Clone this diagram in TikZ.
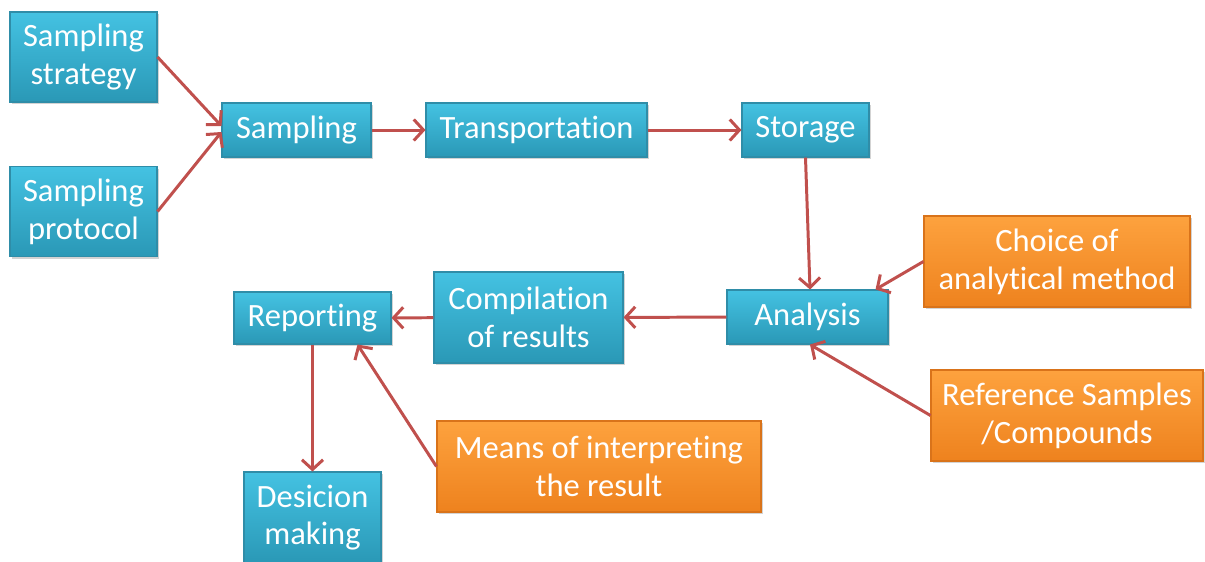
\documentclass[tikz,border=0pt]{standalone}
\usepackage{fontspec}
\setmainfont{Carlito}[Ligatures=NoCommon]
\usepackage{tikz}
\usetikzlibrary{arrows.meta,shadows}
\definecolor{boxtop}{HTML}{44C2E2}
\definecolor{boxbot}{HTML}{2A98B6}
\definecolor{boxline}{HTML}{2F8DA8}
\definecolor{ortop}{HTML}{FDA23E}
\definecolor{orbot}{HTML}{EE821E}
\definecolor{orline}{HTML}{D9731A}
\definecolor{arrowred}{HTML}{C0504D}
\begin{document}
\begin{tikzpicture}[->,>={Straight Barb[length=5.5pt,width=12pt,line width=1.7pt]},
    every node/.style={text=white,align=center,font=\fontsize{18.5}{21.5}\selectfont,inner sep=2pt},
    bluebox/.style={rectangle,top color=boxtop,bottom color=boxbot,draw=boxline,line width=0.6pt,
      drop shadow={shadow xshift=1.2pt,shadow yshift=-1.2pt,opacity=0.35}},
    orangebox/.style={rectangle,top color=ortop,bottom color=orbot,draw=orline,line width=0.6pt,
      drop shadow={shadow xshift=1.2pt,shadow yshift=-1.2pt,opacity=0.35}},
    flow/.style={draw=arrowred,line width=1.7pt}]
  \useasboundingbox (0,0) rectangle (24.1,-11.22);
  % left column
  \node[bluebox,minimum width=2.94cm,minimum height=1.8cm] (strat) at (1.67,-1.14) {Sampling\\strategy};
  \node[bluebox,minimum width=2.94cm,minimum height=1.8cm] (proto) at (1.67,-4.23) {Sampling\\protocol};
  % top row
  \node[bluebox,minimum width=2.98cm,minimum height=1.08cm] (samp) at (5.93,-2.6) {Sampling};
  \node[bluebox,minimum width=4.42cm,minimum height=1.08cm] (trans) at (10.73,-2.6) {Transportation};
  \node[bluebox,minimum width=2.54cm,minimum height=1.08cm] (stor) at (16.11,-2.6) {Storage};
  % middle row
  \node[bluebox,minimum width=3.22cm,minimum height=1.08cm] (anal) at (16.15,-6.34) {Analysis};
  \node[bluebox,minimum width=3.78cm,minimum height=1.82cm] (comp) at (10.57,-6.35) {Compilation\\of results};
  \node[bluebox,minimum width=3.14cm,minimum height=1.04cm] (rep) at (6.25,-6.36) {Reporting};
  \node[bluebox,minimum width=2.74cm,minimum height=1.82cm] (dec) at (6.25,-10.35) {Desicion\\making};
  % inputs
  \node[orangebox,minimum width=5.32cm,minimum height=1.82cm] (choice) at (21.14,-5.23) {Choice of\\analytical method};
  \node[orangebox,minimum width=5.44cm,minimum height=1.82cm] (refs) at (21.34,-8.31) {Reference Samples\\/Compounds};
  \node[orangebox,minimum width=6.48cm,minimum height=1.82cm] (means) at (11.98,-9.33) {Means of interpreting\\the result};
  % connectors
  \draw[flow] (strat.east) -- ([yshift=0.08cm]samp.west);
  \draw[flow] (proto.east) -- ([yshift=-0.04cm]samp.west);
  \draw[flow] (samp) -- (trans);
  \draw[flow] (trans) -- (stor);
  \draw[flow] (stor.south) -- ([xshift=0.05cm]anal.north);
  \draw[flow] (choice.west) -- ([xshift=-0.26cm]anal.north east);
  \draw[flow] (refs.west) -- ([xshift=0.05cm]anal.south);
  \draw[flow] (anal) -- (comp);
  \draw[flow] (comp) -- (rep);
  \draw[flow] (rep.south) -- (dec.north);
  \draw[flow] (means.west) -- ([xshift=0.9cm]rep.south);
\end{tikzpicture}
\end{document}
